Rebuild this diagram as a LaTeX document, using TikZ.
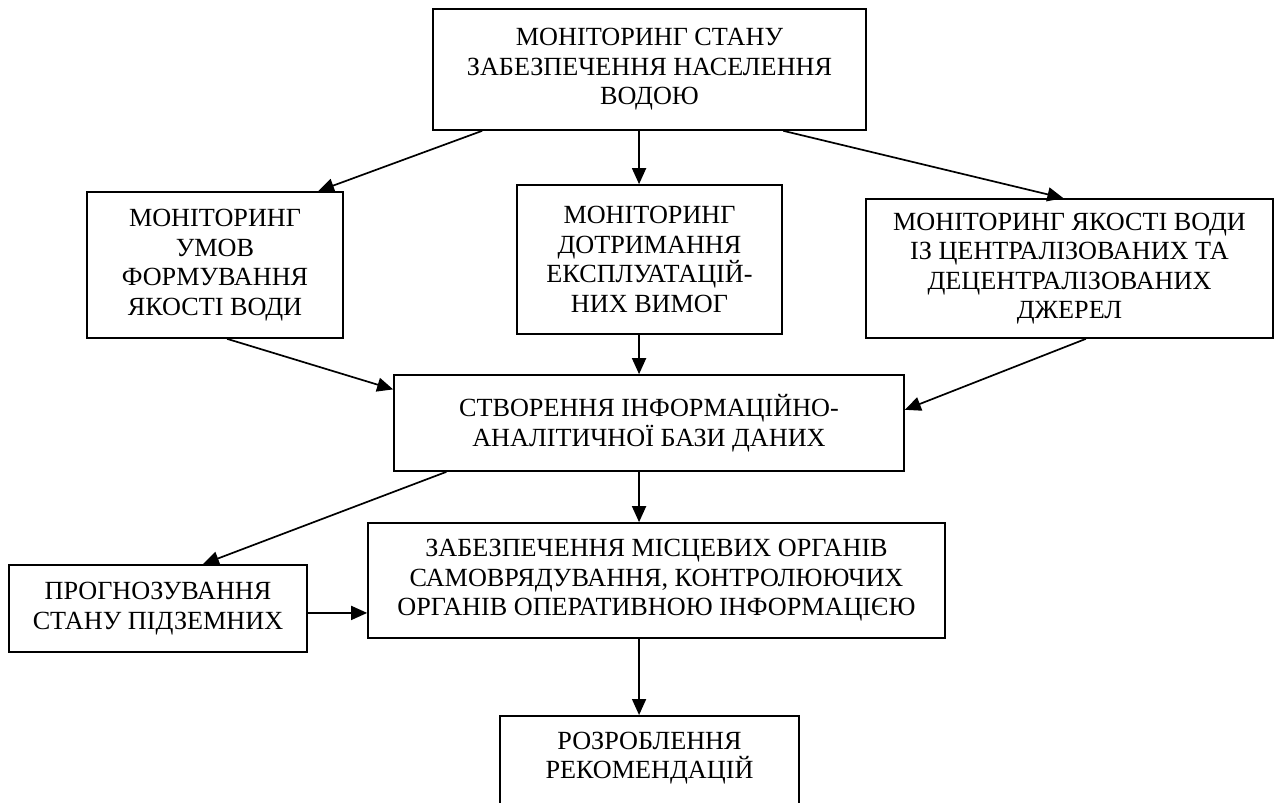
\documentclass[tikz,border=0pt]{standalone}
\usepackage{fontspec}
\setmainfont{Liberation Serif}
\usetikzlibrary{arrows.meta,calc}

\begin{document}
\begin{tikzpicture}[x=1pt,y=-1pt,
  box/.style={draw,line width=1.7pt,align=center,inner sep=0pt,
    font=\fontsize{26.2}{29.5}\selectfont},
  arr/.style={line width=1.7pt,-{Triangle[length=16pt,width=14pt]}}]
  \useasboundingbox (0,0) rectangle (1285,803);

  % top
  \node[box,minimum width=433pt,minimum height=121pt] (top) at (649.5,69.5)
    {МОНІТОРИНГ СТАНУ\\ ЗАБЕЗПЕЧЕННЯ НАСЕЛЕННЯ\\ ВОДОЮ};

  % three kinds of monitoring
  \node[box,minimum width=256pt,minimum height=146pt] (umovy) at (215,265)
    {МОНІТОРИНГ\\ УМОВ\\ ФОРМУВАННЯ\\ ЯКОСТІ ВОДИ};
  \node[box,minimum width=265pt,minimum height=149pt] (vymoh) at (649.5,259.5)
    {МОНІТОРИНГ\\ ДОТРИМАННЯ\\ ЕКСПЛУАТАЦІЙ-\\ НИХ ВИМОГ};
  \node[box,minimum width=407pt,minimum height=139pt] (dzherel) at (1069.5,268.5)
    {МОНІТОРИНГ ЯКОСТІ ВОДИ\\ ІЗ ЦЕНТРАЛІЗОВАНИХ ТА\\ ДЕЦЕНТРАЛІЗОВАНИХ\\ ДЖЕРЕЛ};

  % data base
  \node[box,minimum width=510pt,minimum height=96pt] (baza) at (649,423)
    {СТВОРЕННЯ ІНФОРМАЦІЙНО-\\ АНАЛІТИЧНОЇ БАЗИ ДАНИХ};

  % outputs
  \node[box,minimum width=298pt,minimum height=87pt] (prohnoz) at (158,608.5)
    {ПРОГНОЗУВАННЯ\\ СТАНУ ПІДЗЕМНИХ};
  \node[box,minimum width=577pt,minimum height=115pt] (info) at (656.5,580.5)
    {ЗАБЕЗПЕЧЕННЯ МІСЦЕВИХ ОРГАНІВ\\ САМОВРЯДУВАННЯ, КОНТРОЛЮЮЧИХ\\ ОРГАНІВ ОПЕРАТИВНОЮ ІНФОРМАЦІЄЮ};
  \node[box,anchor=north,minimum width=299pt,inner ysep=16pt,text depth=60pt] (rekom) at (649.5,715)
    {РОЗРОБЛЕННЯ\\ РЕКОМЕНДАЦІЙ};

  % arrows
  \draw[arr] ($(top.south west)!0.115!(top.south east)$) -- ($(umovy.north west)!0.9!(umovy.north east)$);
  \draw[arr] ($(top.south west)!0.476!(top.south east)$) coordinate (t2) -- (t2 |- vymoh.north);
  \draw[arr] ($(top.south west)!0.808!(top.south east)$) -- ($(dzherel.north west)!0.485!(dzherel.north east)$);

  \draw[arr] ($(umovy.south west)!0.547!(umovy.south east)$) -- ($(baza.north west)!0.156!(baza.south west)$);
  \draw[arr] (t2 |- vymoh.south) -- (t2 |- baza.north);
  \draw[arr] ($(dzherel.south west)!0.54!(dzherel.south east)$) -- ($(baza.north east)!0.365!(baza.south east)$);

  \draw[arr] ($(baza.south west)!0.104!(baza.south east)$) -- ($(prohnoz.north west)!0.65!(prohnoz.north east)$);
  \draw[arr] (t2 |- baza.south) -- (t2 |- info.north);
  \draw[arr] ($(prohnoz.north east)!0.55!(prohnoz.south east)$) coordinate (h) -- (h -| info.west);
  \draw[arr] (t2 |- info.south) -- (t2 |- rekom.north);
\end{tikzpicture}
\end{document}
